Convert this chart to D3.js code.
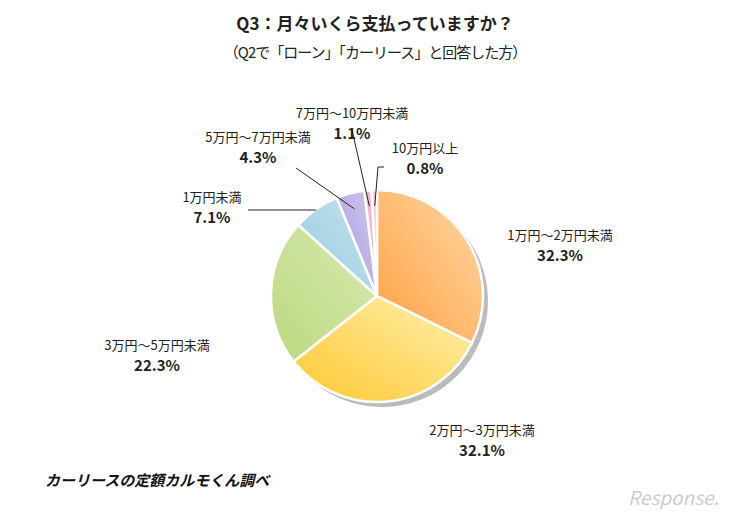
<!DOCTYPE html><html><head><meta charset="utf-8"><script src="https://cdn.jsdelivr.net/npm/d3@7"></script>
<style>body{margin:0;background:#fff}text{font-family:"Noto Sans CJK JP","Noto Sans",sans-serif}</style></head><body>
<svg id="c" width="750" height="520"></svg>
<script>
const categories=["1万円〜2万円未満","2万円〜3万円未満","3万円〜5万円未満","1万円未満","5万円〜7万円未満","7万円〜10万円未満","10万円以上"];
const values=[32.3,32.1,22.3,7.1,4.3,1.1,0.8];
const colorsA=["#ffd9a8","#fff0b0","#d8eab0","#c4e2ee","#cfc6ee","#f8c4d4","#fad0dc"];
const colorsB=["#ffa040","#ffc830","#bcd880","#98cce0","#a89ce0","#f0a0b8","#f4b0c4"];
const labelPos=[[510,240,"start"],[438,435,"start"],[110,350,"start"],[190,202,"start"],[195,142,"start"],[290,118,"start"],[386,153,"start"]];
const svg=d3.select("#c");
const cx=377,cy=296,r=106;
const defs=svg.append("defs");
values.forEach((v,i)=>{const g=defs.append("linearGradient").attr("id","g"+i).attr("x1","100%").attr("y1","0%").attr("x2","0%").attr("y2","100%");
g.append("stop").attr("offset","0%").attr("stop-color",colorsA[i]);g.append("stop").attr("offset","100%").attr("stop-color",colorsB[i]);});
svg.append("text").attr("x",375).attr("y",30).attr("text-anchor","middle").attr("font-size",17).attr("font-weight","bold").attr("fill","#222").text("Q3：月々いくら支払っていますか？");
svg.append("text").attr("x",375).attr("y",58).attr("text-anchor","middle").attr("font-size",15).attr("fill","#222").attr("letter-spacing",-1).text("（Q2で「ローン」「カーリース」と回答した方）");
svg.append("circle").attr("cx",cx+5).attr("cy",cy+5).attr("r",r).attr("fill","#bbb");
const pie=d3.pie().sort(null)(values);
const arc=d3.arc().innerRadius(0).outerRadius(r);
const g=svg.append("g").attr("transform",`translate(${cx},${cy})`);
g.selectAll("path").data(pie).join("path").attr("d",arc).attr("fill",(d,i)=>`url(#g${i})`).attr("stroke","#fff").attr("stroke-width",2.5);
const leaders=[[4,[296,168]],[5,[352,130]],[6,[378,175]]];
leaders.forEach(([i,p])=>{const a=(pie[i].startAngle+pie[i].endAngle)/2;const rr=r*0.85;
const x=cx+Math.sin(a)*rr,y=cy-Math.cos(a)*rr;
let pts=[[x,y],p];
if(i===6)pts=[[x,y],[p[0],p[1]-8],[p[0]+6,p[1]-8]];
svg.append("path").attr("d",d3.line()(pts)).attr("stroke","#222").attr("fill","none").attr("stroke-width",1);});
svg.append("path").attr("d",d3.line()([[248,210],[316,210]])).attr("stroke","#222").attr("stroke-width",1);
categories.forEach((c,i)=>{const [x,y]=labelPos[i];
const cxL=[560,482,157,212,258,352,425][i];
svg.append("text").attr("x",cxL).attr("y",y).attr("text-anchor","middle").attr("font-size",13).attr("fill","#222").text(c);
svg.append("text").attr("x",cxL).attr("y",y+21).attr("text-anchor","middle").attr("font-size",15).attr("font-weight","bold").attr("fill","#222").text(values[i].toFixed(1)+"%");});
svg.append("text").attr("x",45).attr("y",486).attr("font-size",15).attr("font-weight","bold").attr("font-style","italic").attr("fill","#111").text("カーリースの定額カルモくん調べ");
svg.append("text").attr("x",628).attr("y",505).attr("font-size",19).attr("font-style","italic").attr("fill","#ccc").attr("font-family","DejaVu Sans").text("Response.");
</script></body></html>
